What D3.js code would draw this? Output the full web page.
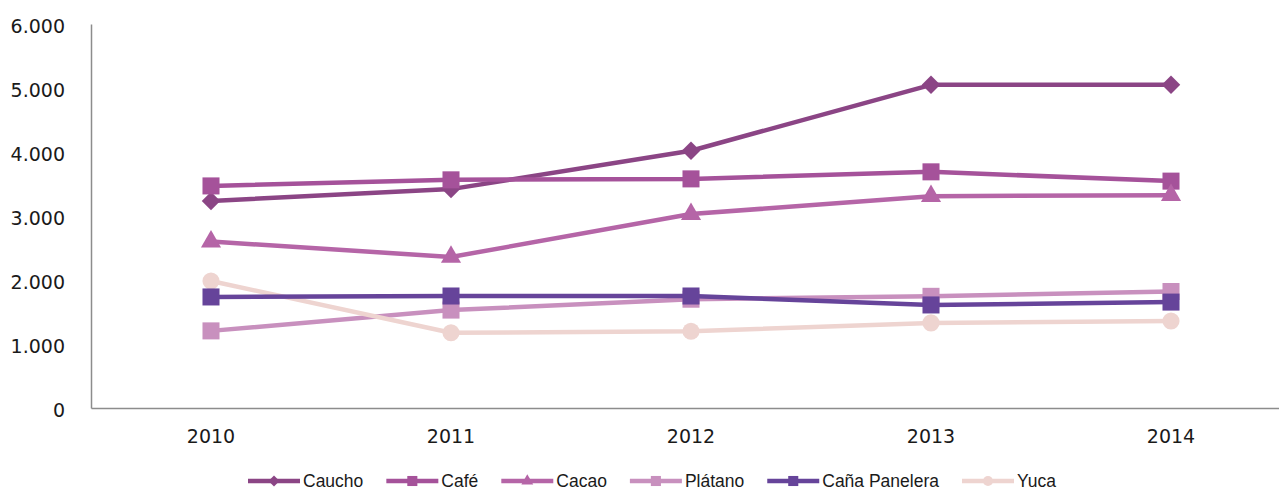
<!DOCTYPE html>
<html>
<head>
<meta charset="utf-8">
<script src="https://cdn.jsdelivr.net/npm/d3@7"></script>
<style>
  body { margin: 0; background: #fff; }
  svg { display: block; }
</style>
</head>
<body>
<div id="chart"></div>
<script>
var years = ["2010", "2011", "2012", "2013", "2014"];
var yTicks = [0, 1000, 2000, 3000, 4000, 5000, 6000];

var caucho   = [3235, 3420, 4020, 5050, 5050];
var cafe     = [3470, 3565, 3580, 3690, 3545];
var cacao    = [2600, 2360, 3030, 3310, 3325];
var platano  = [1205, 1530, 1700, 1745, 1820];
var cana     = [1735, 1750, 1750, 1610, 1655];
var yuca     = [1985, 1175, 1200, 1330, 1360];

var seriesNames  = ["Caucho", "Café", "Cacao", "Plátano", "Caña Panelera", "Yuca"];
var seriesValues = [caucho, cafe, cacao, platano, cana, yuca];
var seriesColors = ["#8b4585", "#a5529a", "#b565a7", "#c890be", "#66449a", "#eed4d0"];
var seriesShapes = ["diamond", "square", "triangle", "square", "square", "circle"];
var drawOrder = [0, 1, 2, 3, 5, 4];

var width = 1279, height = 490;
var margin = {top: 24, left: 91, bottom: 82};

var svg = d3.select("#chart").append("svg")
    .attr("width", width)
    .attr("height", height);

var x = d3.scaleBand()
    .domain(years)
    .range([margin.left, margin.left + 240 * years.length]);

var y = d3.scaleLinear()
    .domain([0, 6000])
    .range([height - margin.bottom, margin.top]);

var fmt = function(d) {
    return d3.format(",")(d).replace(/,/g, ".");
};

// axes
var yAxis = d3.axisLeft(y).tickValues(yTicks).tickFormat(fmt).tickSize(0).tickPadding(26);
var gy = svg.append("g")
    .attr("transform", "translate(" + margin.left + ",0)")
    .call(yAxis);
gy.select(".domain").attr("stroke", "#8c8c8c").attr("stroke-width", 1.5);
gy.selectAll("text")
    .style("font-family", "DejaVu Sans, Verdana, sans-serif")
    .style("font-size", "19px")
    .attr("fill", "#1a1a1a")
    .attr("dy", "0.45em");

var xAxis = d3.axisBottom(x).tickSize(0).tickPadding(22);
var gx = svg.append("g")
    .attr("transform", "translate(0," + y(0) + ")")
    .call(xAxis);
gx.select(".domain").attr("stroke", "#8c8c8c").attr("stroke-width", 1.5);
gx.selectAll("text")
    .style("font-family", "DejaVu Sans, Verdana, sans-serif")
    .style("font-size", "19px")
    .attr("fill", "#1a1a1a");

function symbolFor(shape, size) {
    var t = {diamond: d3.symbolSquare, square: d3.symbolSquare,
             triangle: d3.symbolTriangle, circle: d3.symbolCircle}[shape];
    return d3.symbol().type(t).size(size)();
}
var markerSize = {diamond: 170, square: 290, triangle: 175, circle: 230};
var markerRot = {diamond: 45, square: 0, triangle: 0, circle: 0};

var line = d3.line()
    .x(function(d, i) { return x(years[i]) + x.bandwidth() / 2; })
    .y(function(d) { return y(d); });

drawOrder.forEach(function(k) {
    var shape = seriesShapes[k];
    var g = svg.append("g").attr("class", "series");
    g.append("path")
        .datum(seriesValues[k])
        .attr("d", line)
        .attr("fill", "none")
        .attr("stroke", seriesColors[k])
        .attr("stroke-width", 4.5)
        .attr("stroke-linejoin", "round");
    g.selectAll("path.mark")
        .data(seriesValues[k])
        .enter().append("path")
        .attr("class", "mark")
        .attr("d", symbolFor(shape, markerSize[shape]))
        .attr("transform", function(d, i) {
            return "translate(" + (x(years[i]) + x.bandwidth() / 2) + "," + y(d) + ") rotate(" + markerRot[shape] + ")";
        })
        .attr("fill", seriesColors[k]);
});

// legend
var legend = svg.append("g").attr("class", "legend");
var lx = 248, ly = 481;
seriesNames.forEach(function(name, k) {
    var shape = seriesShapes[k];
    var item = legend.append("g").attr("transform", "translate(" + lx + "," + ly + ")");
    item.append("line")
        .attr("x1", 0).attr("x2", 52)
        .attr("stroke", seriesColors[k])
        .attr("stroke-width", 4.5);
    item.append("path")
        .attr("d", symbolFor(shape, markerSize[shape] * 0.35))
        .attr("transform", "translate(26,0) rotate(" + markerRot[shape] + ")")
        .attr("fill", seriesColors[k]);
    var t = item.append("text")
        .attr("x", 55)
        .attr("dy", "0.33em")
        .style("font-family", "Liberation Sans Narrow, Arial Narrow, sans-serif")
        .style("font-size", "17.5px")
        .attr("fill", "#1a1a1a")
        .text(name);
    lx += 55 + t.node().getComputedTextLength() + 23;
});
</script>
</body>
</html>
